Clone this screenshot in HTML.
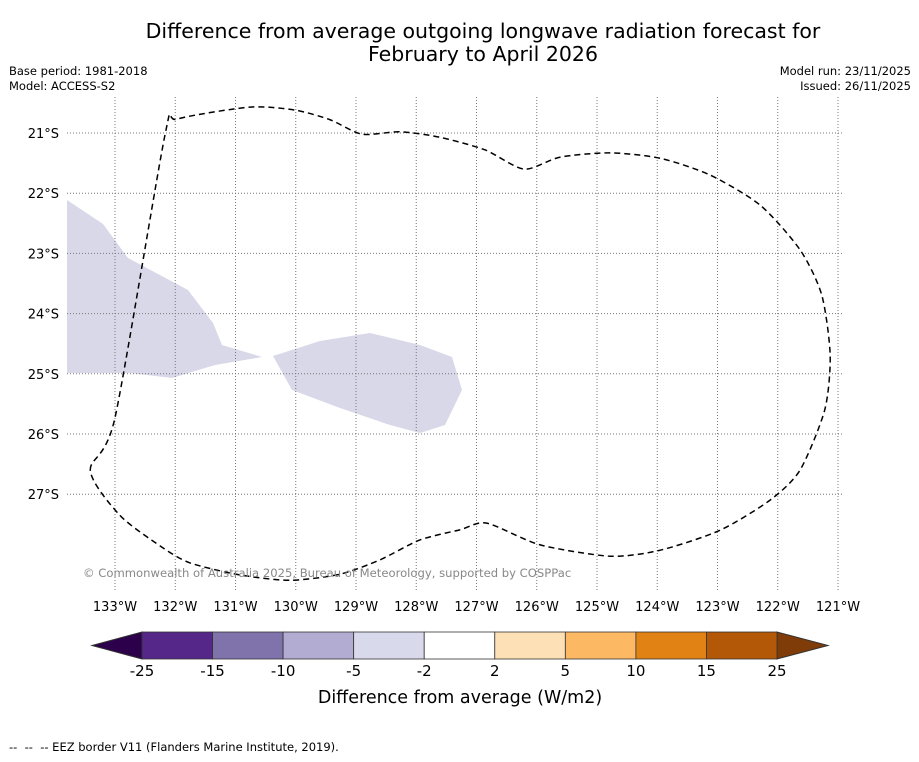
<!DOCTYPE html>
<html><head><meta charset="utf-8"><style>
body{margin:0;background:#fff;font-family:"DejaVu Sans","Liberation Sans",sans-serif;}
</style></head><body>
<svg width="919" height="758" viewBox="0 0 919 758" xmlns="http://www.w3.org/2000/svg">
<rect width="919" height="758" fill="#fff"/>
<text x="483" y="38" text-anchor="middle" font-size="20.5">Difference from average outgoing longwave radiation forecast for</text>
<text x="483" y="61" text-anchor="middle" font-size="20.5">February to April 2026</text>
<text x="9" y="75" font-size="11.5">Base period: 1981-2018</text>
<text x="9" y="90" font-size="11.5">Model: ACCESS-S2</text>
<text x="911" y="75" font-size="11.5" text-anchor="end">Model run: 23/11/2025</text>
<text x="911" y="90" font-size="11.5" text-anchor="end">Issued: 26/11/2025</text>
<g id="map">
<polygon fill="#d8d8e9" points="67,200 103,224 128,258 188,290 213,323 222,345 262,357 215,365 172,378 130,373 67,373"/>
<polygon fill="#d8d8e9" points="273,356 320,341 370,333 420,345 452,357 462,390 445,425 420,433 390,425 340,408 292,390"/>
<g id="grid"></g>
<path id="eez" fill="none" stroke="#000" stroke-width="1.5" stroke-dasharray="6,4"/>
</g>
<text x="83" y="577" font-size="11.6" fill="#888">© Commonwealth of Australia 2025, Bureau of Meteorology, supported by COSPPac</text>
<g id="ticks"></g>
<g id="cbar"></g>
<text x="460" y="703" font-size="17.5" text-anchor="middle">Difference from average (W/m2)</text>
<text x="9" y="751" font-size="11.5">--&#160;&#160;--&#160;&#160;-- EEZ border V11 (Flanders Marine Institute, 2019).</text>
</svg>
<script>
const lonTicks=[-133,-132,-131,-130,-129,-128,-127,-126,-125,-124,-123,-122,-121];
const latTicks=[-21,-22,-23,-24,-25,-26,-27];
const eezLon=[-133.41,-133,-132.17,-131.97,-130.76,-130.01,-129.43,-128.90,-128.27,-127.61,-126.86,-126.21,-125.61,-124.78,-123.95,-123.12,-122.29,-121.63,-121.27,-121.13,-121.22,-121.63,-122.13,-122.96,-123.95,-124.78,-125.95,-126.83,-127.27,-127.94,-128.60,-129.27,-130.10,-130.93,-131.76,-132.25,-132.92];
const eezLat=[-26.60,-25.73,-21.03,-20.77,-20.57,-20.62,-20.78,-21.02,-20.98,-21.07,-21.28,-21.60,-21.40,-21.33,-21.42,-21.70,-22.20,-22.94,-23.69,-24.69,-25.60,-26.60,-27.10,-27.60,-27.93,-28.03,-27.84,-27.48,-27.59,-27.76,-28.09,-28.33,-28.43,-28.34,-28.14,-27.86,-27.35];
const cbLabels=["-25","-15","-10","-5","-2","2","5","10","15","25"];
const cbColors=["#542788","#8073ac","#b2abd2","#d8daeb","#ffffff","#fee0b6","#fdb863","#e08214","#b35806"];
const NS="http://www.w3.org/2000/svg";
const X=lon=>115+(lon+133)*60.25, Y=lat=>133+(-21-lat)*60.2;
function mk(t,a,p){const e=document.createElementNS(NS,t);for(const k in a)e.setAttribute(k,a[k]);p.appendChild(e);return e;}
const grid=document.getElementById('grid'), ticks=document.getElementById('ticks');
lonTicks.forEach(v=>{
 const l=mk('line',{x1:X(v),x2:X(v),y1:97,y2:592,stroke:'#777','stroke-width':1,'stroke-dasharray':'1,2'},grid);
 
 
 const t=mk('text',{x:X(v),y:611,'font-size':13,'text-anchor':'middle'},ticks);
 t.textContent=Math.abs(v)+'°W';
 
 
});
latTicks.forEach(v=>{
 const l=mk('line',{x1:67,x2:843,y1:Y(v),y2:Y(v),stroke:'#777','stroke-width':1,'stroke-dasharray':'1,2'},grid);
 
 
 const t=mk('text',{x:59,y:Y(v)+5,'font-size':13,'text-anchor':'end'},ticks);
 t.textContent=Math.abs(v)+'°S';
 
 
});
// smooth closed path (Catmull-Rom)
const P=eezLon.map((v,i)=>[X(v),Y(eezLat[i])]);const n=P.length;
let d='M'+P[0][0]+','+P[0][1];
for(let i=0;i<n;i++){const p0=P[(i-1+n)%n],p1=P[i],p2=P[(i+1)%n],p3=P[(i+2)%n];const k=1/8;
 d+=` C${p1[0]+(p2[0]-p0[0])*k},${p1[1]+(p2[1]-p0[1])*k} ${p2[0]-(p3[0]-p1[0])*k},${p2[1]-(p3[1]-p1[1])*k} ${p2[0]},${p2[1]}`;}
document.getElementById('eez').setAttribute('d',d+' Z');
const cb=document.getElementById('cbar');
const x0=142,x1=777,y0=632,y1=659,w=(x1-x0)/cbColors.length;
const lt=mk('polygon',{points:`${x0},${y0} ${x0},${y1} 92,${(y0+y1)/2}`,fill:'#2d004b',stroke:'#333'},cb);


const rt=mk('polygon',{points:`${x1},${y0} ${x1},${y1} 828,${(y0+y1)/2}`,fill:'#7f3b08',stroke:'#333'},cb);


cbColors.forEach((c,i)=>{
 const r=mk('rect',{x:x0+i*w,y:y0,width:w,height:y1-y0,fill:c,stroke:'#333','stroke-width':0.8},cb);
 
 
});
cbLabels.forEach((s,i)=>{
 const t=mk('text',{x:x0+i*w,y:676,'font-size':15,'text-anchor':'middle'},cb);
 t.textContent=s;
 
 
});
</script>
</body></html>
